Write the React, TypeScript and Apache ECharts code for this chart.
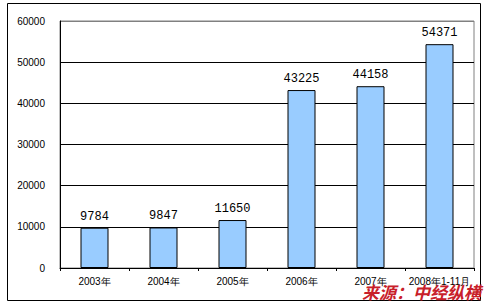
import React, { useEffect, useRef } from "react";
import * as echarts from "echarts";

const categories = ["2003年", "2004年", "2005年", "2006年", "2007年", "2008年1-11月"];
const values = [9784, 9847, 11650, 43225, 44158, 54371];
const sourceText = "来源：中经纵横";

export default function App() {
  const ref = useRef<HTMLDivElement>(null);
  useEffect(() => {
    if (!ref.current) return;
    const chart = echarts.init(ref.current, null, { renderer: "svg" });
    chart.setOption({
      animation: false,
      backgroundColor: "#ffffff",
      grid: {
        left: 60,
        right: 12,
        top: 21,
        bottom: 39,
        show: true,
        borderColor: "#808080",
        borderWidth: 1,
        backgroundColor: "transparent",
      },
      xAxis: {
        type: "category",
        data: categories,
        axisLine: { show: true, lineStyle: { color: "#000", width: 1 } },
        axisTick: { show: true, length: 3, alignWithLabel: false, lineStyle: { color: "#000" } },
        axisLabel: {
          interval: 0,
          color: "#000",
          fontSize: 10,
          fontFamily: "Liberation Sans, Arial, sans-serif",
          margin: 8,
        },
        splitLine: { show: false },
      },
      yAxis: {
        type: "value",
        min: 0,
        max: 60000,
        interval: 10000,
        axisLine: { show: true, lineStyle: { color: "#000", width: 1 } },
        axisTick: { show: false },
        axisLabel: {
          color: "#000",
          fontSize: 10,
          fontFamily: "Liberation Sans, Arial, sans-serif",
          margin: 15,
          formatter: (v: number) => String(v),
        },
        splitLine: {
          show: true,
          lineStyle: {
            color: ["#000", "#000", "#000", "#000", "#000", "#000", "#808080"],
            width: 1,
          },
        },
      },
      series: [
        {
          type: "bar",
          data: values,
          barWidth: 28,
          itemStyle: { color: "#99ccff", borderColor: "#000", borderWidth: 1 },
          label: {
            show: true,
            position: "top",
            distance: 5,
            color: "#000",
            fontSize: 12,
            fontFamily: "Liberation Mono, DejaVu Sans Mono, monospace",
          },
        },
      ],
      graphic: [
        {
          type: "rect",
          shape: { x: 7.5, y: 3.5, width: 473, height: 297 },
          style: { fill: "none", stroke: "#000", lineWidth: 1 },
          silent: true,
          z: 10,
        },
        {
          type: "text",
          left: 362,
          top: 283,
          style: {
            text: sourceText,
            fill: "#c8202a",
            font: "italic bold 17px 'Noto Sans CJK SC', sans-serif",
          },
          z: 20,
        },
      ],
    });
    return () => chart.dispose();
  }, []);
  return (
    <div
      ref={ref}
      style={{ position: "fixed", left: 0, top: 0, width: 486, height: 307 }}
    />
  );
}
